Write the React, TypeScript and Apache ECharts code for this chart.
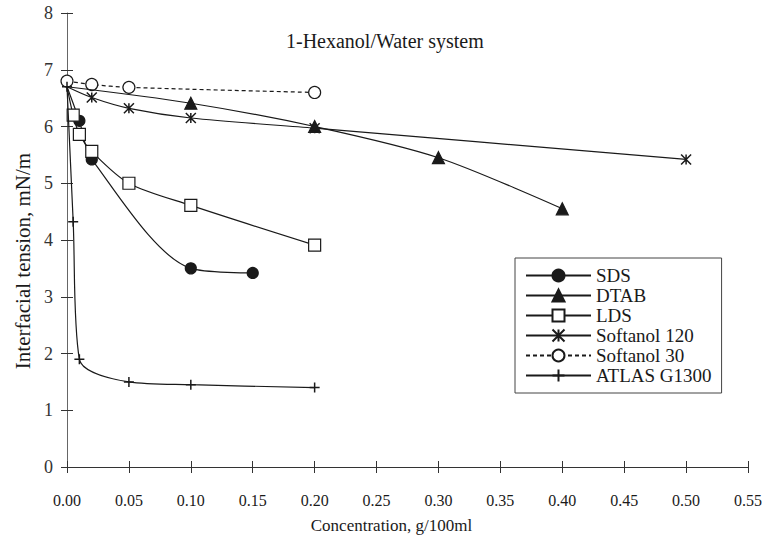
import React, { useEffect, useRef } from "react";
import * as echarts from "echarts";

const seriesNames = ["SDS", "DTAB", "LDS", "Softanol 120", "Softanol 30", "ATLAS G1300"];
const sdsData = [[0, 6.7], [0.01, 6.1], [0.02, 5.42], [0.1, 3.5], [0.15, 3.42]];
const dtabData = [[0, 6.7], [0.1, 6.41], [0.2, 6.0], [0.3, 5.45], [0.4, 4.55]];
const ldsData = [[0, 6.7], [0.005, 6.2], [0.01, 5.86], [0.02, 5.56], [0.05, 5.0], [0.1, 4.61], [0.2, 3.91]];
const soft120Data = [[0, 6.7], [0.02, 6.51], [0.05, 6.32], [0.1, 6.15], [0.2, 5.97], [0.5, 5.42]];
const soft30Data = [[0, 6.8], [0.02, 6.74], [0.05, 6.69], [0.2, 6.6]];
const atlasData = [[0, 6.7], [0.005, 4.32], [0.01, 1.9], [0.05, 1.5], [0.1, 1.45], [0.2, 1.4]];

const FONT = "'Liberation Serif', 'DejaVu Serif', serif";
const INK = "#1a1a1a";

const asterisk = "path://M0,0L10,10M10,0L0,10M5,0L5,10";
const plus = "path://M5,0L5,10M0,5L10,5";

export default function App() {
  const ref = useRef<HTMLDivElement>(null);
  useEffect(() => {
    if (!ref.current) return;
    const chart = echarts.init(ref.current, null, { renderer: "svg" });
    const base = (name: string, data: number[][], symbol: string, size: number, fill: string, extra: any = {}) => ({
      name,
      type: "line",
      data: data.map((d, i) => (i === 0 && extra.hideFirst ? { value: d, symbol: "none" } : d)),
      smooth: 0.3,
      symbol,
      symbolSize: size,
      showAllSymbol: true,
      lineStyle: { color: INK, width: 1.2, ...(extra.lineStyle || {}) },
      itemStyle: { color: fill, borderColor: INK, borderWidth: extra.bw ?? 1.2 },
      z: extra.z ?? 2,
    });
    chart.setOption({
      animation: false,
      backgroundColor: "#fff",
      textStyle: { fontFamily: FONT, color: INK },
      title: {
        text: "1-Hexanol/Water system",
        left: 281,
        top: 26,
        textStyle: { fontFamily: FONT, fontWeight: "normal", fontSize: 20, color: INK },
      },
      grid: { left: 67, right: 23, top: 13, bottom: 75, containLabel: false },
      legend: {
        orient: "vertical",
        left: 515,
        top: 258,
        padding: [8, 10, 8, 10],
        itemGap: 1,
        itemWidth: 65,
        itemHeight: 15,
        borderColor: "#444",
        borderWidth: 1,
        backgroundColor: "#fff",
        data: seriesNames,
        textStyle: { fontFamily: FONT, fontSize: 19, lineHeight: 17, color: INK },
      },
      xAxis: [
        {
          type: "value",
          min: 0,
          max: 0.55,
          interval: 0.05,
          name: "Concentration, g/100ml",
          nameLocation: "middle",
          nameGap: 50,
          nameTextStyle: { fontFamily: FONT, fontSize: 17, color: INK, padding: [0, 32, 0, 0] },
          axisLine: { lineStyle: { color: "#333", width: 1 } },
          axisTick: { show: true, length: 6, lineStyle: { color: "#333" } },
          axisLabel: { fontFamily: FONT, fontSize: 16, color: INK, margin: 25, formatter: (v: number) => v.toFixed(2) },
          splitLine: { show: false },
        },
        {
          type: "value",
          min: 0,
          max: 0.55,
          interval: 0.05,
          position: "bottom",
          axisLine: { show: false },
          axisTick: { show: true, inside: true, length: 6, lineStyle: { color: "#333" } },
          axisLabel: { show: false },
          splitLine: { show: false },
        },
      ],
      yAxis: [
        {
          type: "value",
          min: 0,
          max: 8,
          interval: 1,
          name: "Interfacial tension, mN/m",
          nameLocation: "middle",
          nameGap: 29,
          nameTextStyle: { fontFamily: FONT, fontSize: 21, color: INK, padding: [0, 42, 0, 0] },
          axisLine: { show: true, lineStyle: { color: "#666", width: 1 } },
          axisTick: { show: true, length: 6, lineStyle: { color: "#333" } },
          axisLabel: { fontFamily: FONT, fontSize: 18, color: "#333", margin: 14 },
          splitLine: { show: false },
        },
        {
          type: "value",
          min: 0,
          max: 8,
          interval: 1,
          position: "left",
          axisLine: { show: false },
          axisTick: { show: true, inside: true, length: 6, lineStyle: { color: "#333" } },
          axisLabel: { show: false },
          splitLine: { show: false },
        },
      ],
      series: [
        base("SDS", sdsData, "circle", 11, INK, { hideFirst: true }),
        base("DTAB", dtabData, "triangle", 12, INK, { hideFirst: true }),
        base("LDS", ldsData, "rect", 12, "#fff", { z: 3, hideFirst: true }),
        base("Softanol 120", soft120Data, asterisk, 10, INK, { bw: 1.5, hideFirst: true }),
        base("Softanol 30", soft30Data, "circle", 12, "#fff", { lineStyle: { type: [4, 3] }, z: 1 }),
        base("ATLAS G1300", atlasData, plus, 10, INK, { bw: 1.5, z: 4 }),
      ],
    });
    return () => chart.dispose();
  }, []);
  return <div ref={ref} style={{ width: 771, height: 542, position: "absolute", left: 0, top: 0, background: "#fff" }} />;
}
